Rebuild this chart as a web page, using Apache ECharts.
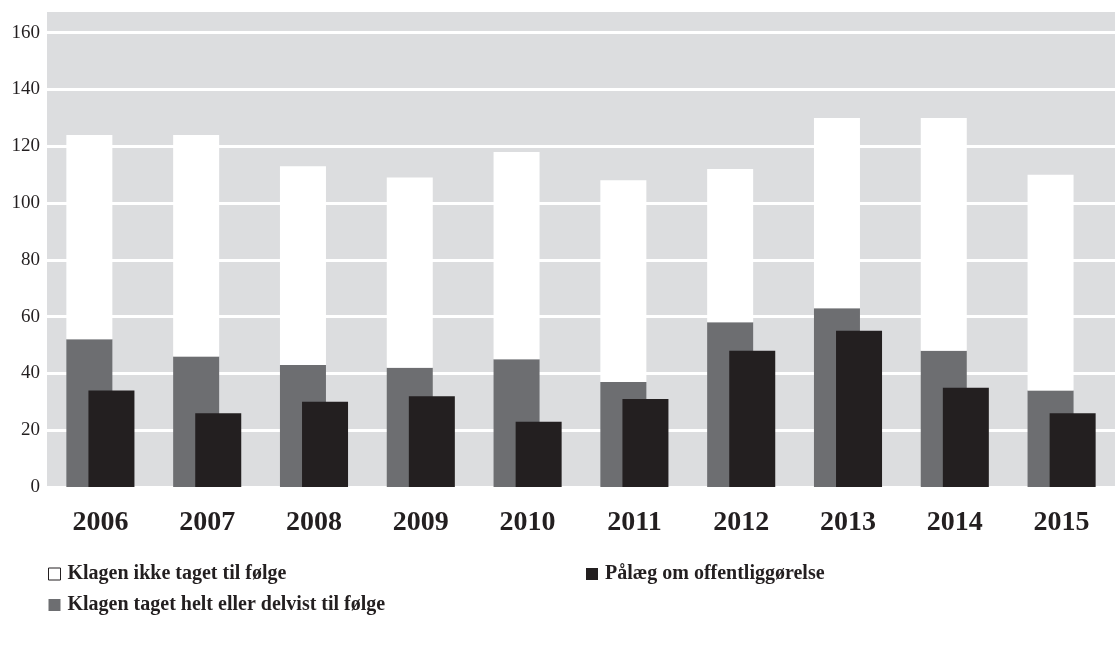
<!DOCTYPE html>
<html>
<head>
<meta charset="utf-8">
<script src="https://cdn.jsdelivr.net/npm/echarts@6/dist/echarts.min.js"></script>
<style>
  html, body { margin: 0; padding: 0; background: #fff; }
  #chart { width: 1115px; height: 654px; }
</style>
</head>
<body>
<div id="chart"></div>
<script>
// years on the x axis
const years = ["2006", "2007", "2008", "2009", "2010", "2011", "2012", "2013", "2014", "2015"];
// Klagen taget helt eller delvist til følge (grey, bottom of stack)
const takenValues = [52, 46, 43, 42, 45, 37, 58, 63, 48, 34];
// Klagen ikke taget til følge (white, stacked on top of grey)
const notTakenValues = [72, 78, 70, 67, 73, 71, 54, 67, 82, 76];
// Pålæg om offentliggørelse (black)
const publishValues = [34, 26, 30, 32, 23, 31, 48, 55, 35, 26];

const NAME_NOT = "Klagen ikke taget til følge";
const NAME_TAKEN = "Klagen taget helt eller delvist til følge";
const NAME_PUB = "Pålæg om offentliggørelse";

const serif = "'Liberation Serif', 'DejaVu Serif', serif";
const ink = "#231f20";

const chart = echarts.init(document.getElementById("chart"));

chart.setOption({
  backgroundColor: "#fff",
  animation: false,
  grid: {
    left: 47,
    right: 0,
    top: 10,
    bottom: 167,
    show: true,
    backgroundColor: "#dcdddf",
    borderWidth: 0,
  },
  legend: [
    {
      orient: "vertical",
      left: 48,
      top: 564,
      padding: 0,
      itemWidth: 12,
      itemHeight: 12,
      itemGap: 11,
      icon: "rect",
      textStyle: { fontFamily: serif, fontWeight: "bold", fontSize: 20, color: ink, padding: [0, 0, 0, 2] },
      data: [
        { name: NAME_NOT, itemStyle: { color: "#fff", borderColor: ink, borderWidth: 1 } },
        { name: NAME_TAKEN },
      ],
    },
    {
      left: 586,
      top: 564,
      padding: 0,
      itemWidth: 12,
      itemHeight: 12,
      icon: "rect",
      textStyle: { fontFamily: serif, fontWeight: "bold", fontSize: 20, color: ink, padding: [0, 0, 0, 2] },
      data: [{ name: NAME_PUB }],
    },
  ],
  xAxis: {
    type: "category",
    data: years,
    axisLine: { show: false },
    axisTick: { show: false },
    axisLabel: {
      margin: 22,
      fontFamily: serif,
      fontWeight: "bold",
      fontSize: 28,
      color: ink,
    },
  },
  yAxis: {
    type: "value",
    min: 0,
    max: 168,
    interval: 20,
    axisLine: { show: false },
    axisTick: { show: false },
    axisLabel: {
      showMaxLabel: false,
      margin: 7,
      fontFamily: serif,
      fontSize: 19,
      color: ink,
    },
    splitLine: { lineStyle: { color: "#fff", width: 3 } },
  },
  series: [
    {
      name: NAME_TAKEN,
      type: "bar",
      stack: "klager",
      barWidth: 46,
      barGap: "-52%",
      itemStyle: { color: "#6d6e71" },
      data: takenValues,
    },
    {
      name: NAME_NOT,
      type: "bar",
      stack: "klager",
      barWidth: 46,
      itemStyle: { color: "#ffffff" },
      data: notTakenValues,
    },
    {
      name: NAME_PUB,
      type: "bar",
      barWidth: 46,
      itemStyle: { color: ink },
      data: publishValues,
    },
  ],
});

window.addEventListener("resize", () => chart.resize());
</script>
</body>
</html>
